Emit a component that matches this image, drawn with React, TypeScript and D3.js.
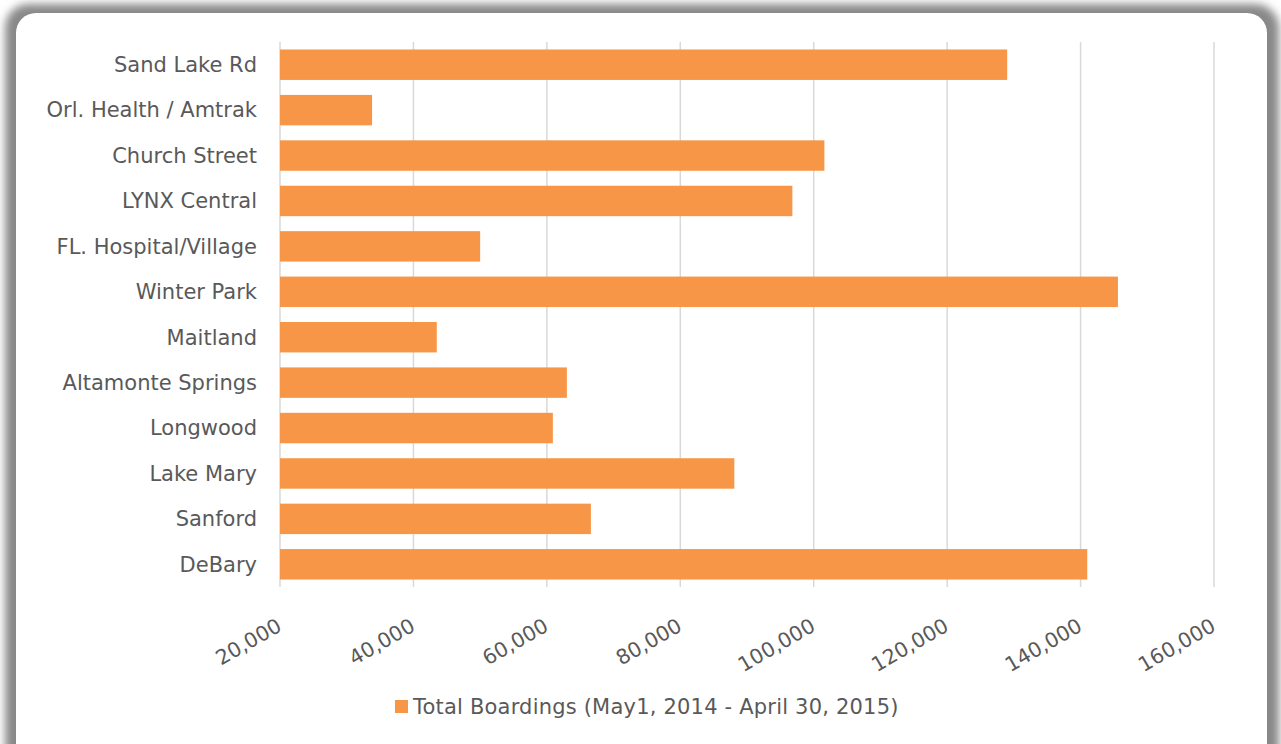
import * as d3 from 'd3';
import React from 'react';

// boardings per station, top to bottom as drawn
const stations = [
  'Sand Lake Rd',
  'Orl. Health / Amtrak',
  'Church Street',
  'LYNX Central',
  'FL. Hospital/Village',
  'Winter Park',
  'Maitland',
  'Altamonte Springs',
  'Longwood',
  'Lake Mary',
  'Sanford',
  'DeBary',
];
const boardings = [129000, 33800, 101600, 96800, 50000, 145600, 43500, 63000, 60900, 88100, 66600, 141000];
const ticks = [20000, 40000, 60000, 80000, 100000, 120000, 140000, 160000];
const seriesName = 'Total Boardings (May1, 2014 - April 30, 2015)';

const W = 1281;
const H = 744;
const font = "'DejaVu Sans', sans-serif";
const textColor = '#595959';
const barColor = '#F79646';

export default function App() {
  const x = d3.scaleLinear().domain([20000, 160000]).range([280, 1214]);
  const y = d3.scaleBand().domain(stations).range([42, 587]).paddingInner(0.33).paddingOuter(0.165);
  const fmt = d3.format(',');

  return (
    <div style={{ position: 'absolute', left: 0, top: 0 }}>
      <svg width={W} height={H} style={{ display: 'block', fontFamily: font }}>
        <defs>
          <filter id="shadow" x="-5%" y="-5%" width="110%" height="110%">
            <feGaussianBlur stdDeviation="4" />
          </filter>
        </defs>
        <rect x={0} y={0} width={W} height={H} fill="#fff" />
        {/* card shadow + card */}
        <rect x={5} y={4} width={1274} height={780} rx={24} fill="#888" filter="url(#shadow)" />
        <rect x={16} y={13} width={1251} height={770} rx={20} fill="#fff" />

        {/* grid */}
        {ticks.map((t) => (
          <line key={t} x1={x(t)} x2={x(t)} y1={42} y2={587} stroke="#d9d9d9" strokeWidth={1.5} />
        ))}

        {/* bars */}
        {stations.map((s, i) => (
          <rect
            key={s}
            x={x(20000)}
            y={y(s)}
            width={x(boardings[i]) - x(20000)}
            height={y.bandwidth()}
            fill={barColor}
          />
        ))}

        {/* category labels */}
        {stations.map((s) => (
          <text
            key={s}
            x={257}
            y={(y(s) ?? 0) + y.bandwidth() / 2}
            dy="0.35em"
            textAnchor="end"
            fontSize={21}
            fill={textColor}
          >
            {s}
          </text>
        ))}

        {/* value tick labels, rotated */}
        {ticks.map((t) => (
          <text
            key={t}
            transform={`translate(${x(t) + 3},630) rotate(-30)`}
            textAnchor="end"
            fontSize={20.5}
            fill={textColor}
          >
            {fmt(t)}
          </text>
        ))}

        {/* legend */}
        <rect x={395} y={700} width={13} height={13} fill={barColor} />
        <text x={413} y={707} dy="0.35em" fontSize={21} letterSpacing={0.2} fill={textColor}>
          {seriesName}
        </text>
      </svg>
    </div>
  );
}
